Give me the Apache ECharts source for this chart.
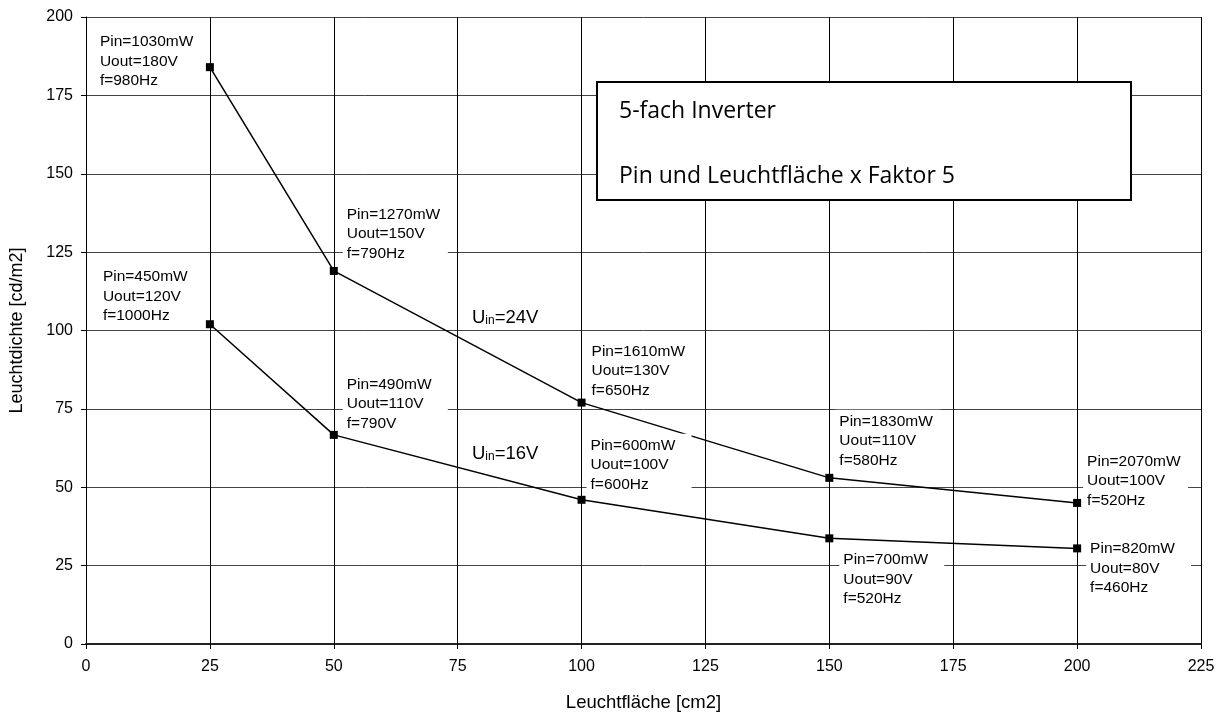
<!DOCTYPE html>
<html>
<head>
<meta charset="utf-8">
<script src="https://cdn.jsdelivr.net/npm/echarts@6/dist/echarts.min.js"></script>
<style>
html,body{margin:0;padding:0;background:#fff;}
#chart{width:1221px;height:717px;}
</style>
</head>
<body>
<div id="chart"></div>
<script>
// ---- data ----
const areaValues = [25, 50, 100, 150, 200];          // Leuchtfläche [cm2]
const lum24 = [184, 119, 77, 53, 45];                // U_in = 24V
const lum16 = [102, 66.7, 46, 33.7, 30.5];           // U_in = 16V
const info24 = [
  ["Pin=1030mW", "Uout=180V", "f=980Hz"],
  ["Pin=1270mW", "Uout=150V", "f=790Hz"],
  ["Pin=1610mW", "Uout=130V", "f=650Hz"],
  ["Pin=1830mW", "Uout=110V", "f=580Hz"],
  ["Pin=2070mW", "Uout=100V", "f=520Hz"]
];
const info16 = [
  ["Pin=450mW", "Uout=120V", "f=1000Hz"],
  ["Pin=490mW", "Uout=110V", "f=790V"],
  ["Pin=600mW", "Uout=100V", "f=600Hz"],
  ["Pin=700mW", "Uout=90V", "f=520Hz"],
  ["Pin=820mW", "Uout=80V", "f=460Hz"]
];
const xTicks = [0, 25, 50, 75, 100, 125, 150, 175, 200, 225];
const yTicks = [0, 25, 50, 75, 100, 125, 150, 175, 200];
const xTitle = "Leuchtfläche [cm2]";
const yTitle = "Leuchtdichte [cd/m2]";
const boxLines = ["5-fach Inverter", "Pin und Leuchtfläche x Faktor 5"];
const seriesNames = ["24V", "16V"];

// ---- layout (label offsets, px, relative to marker) ----
const pos24 = [[-110, -33], [13, -64], [10, -59], [10, -64], [10, -49]];
const pos16 = [[-107, -55], [13, -58], [9, -62], [14, 14], [13, -7]];

const FONT = "'Liberation Sans', Arial, sans-serif";

function buildData(ys, infos, poss) {
  return areaValues.map((x, i) => ({
    value: [x, ys[i]],
    label: {
      show: true,
      position: poss[i],
      align: 'left',
      verticalAlign: 'top',
      formatter: infos[i].join('\n'),
      fontFamily: FONT,
      fontSize: 15.5,
      lineHeight: 19.5,
      color: '#000',
      backgroundColor: '#fff',
      padding: [2, 4, 2, 4],
      width: 97
    }
  }));
}

const chart = echarts.init(document.getElementById('chart'), null, {renderer: 'canvas'});

function lineSeries(name, ys, infos, poss) {
  return {
    name: name,
    type: 'line',
    data: buildData(ys, infos, poss),
    symbol: 'rect',
    symbolSize: 8,
    itemStyle: {color: '#000'},
    lineStyle: {color: '#000', width: 1.5},
    animation: false,
    z: 3
  };
}

const option = {
  animation: false,
  backgroundColor: '#fff',
  grid: {left: 85, right: 20, top: 17, bottom: 71},
  xAxis: {
    type: 'value',
    min: xTicks[0], max: xTicks[xTicks.length - 1], interval: 25,
    name: xTitle,
    nameLocation: 'middle',
    nameGap: 49,
    nameTextStyle: {fontFamily: FONT, fontSize: 18.5, color: '#000'},
    axisLine: {show: true, onZero: false, lineStyle: {color: '#222', width: 2}},
    axisTick: {show: true, length: 5, inside: false, lineStyle: {color: '#000'}},
    axisLabel: {fontFamily: FONT, fontSize: 16, color: '#000', margin: 15},
    splitLine: {show: true, lineStyle: {color: '#000', width: 1}}
  },
  yAxis: {
    type: 'value',
    min: yTicks[0], max: yTicks[yTicks.length - 1], interval: 25,
    name: yTitle,
    nameLocation: 'middle',
    nameGap: 60,
    nameTextStyle: {fontFamily: FONT, fontSize: 18, color: '#000'},
    axisLine: {show: true, lineStyle: {color: '#000', width: 1}},
    axisTick: {show: true, length: 5, inside: false, lineStyle: {color: '#000'}},
    axisLabel: {fontFamily: FONT, fontSize: 16, color: '#000', margin: 13},
    splitLine: {show: true, lineStyle: {color: '#444', width: 1}}
  },
  series: [
    lineSeries(seriesNames[0], lum24, info24, pos24),
    lineSeries(seriesNames[1], lum16, info16, pos16)
  ],
  graphic: [
    {
      type: 'rect', z: 100,
      shape: {x: 597, y: 82, width: 534, height: 118},
      style: {fill: '#fff', stroke: '#000', lineWidth: 2}
    },
    {
      type: 'text', z: 101, x: 619, y: 111,
      style: {text: boxLines[0], font: "23px 'Open Sans', Lato, sans-serif", fill: '#000', textVerticalAlign: 'middle'}
    },
    {
      type: 'text', z: 101, x: 619, y: 176,
      style: {text: boxLines[1], font: "23px 'Open Sans', Lato, sans-serif", fill: '#000', textVerticalAlign: 'middle'}
    },
    {
      type: 'text', z: 101, x: 472, y: 316,
      style: {
        text: '{a|U}{s|in}{a|=24V}',
        verticalAlign: 'middle',
        rich: {
          a: {fontFamily: FONT, fontSize: 18.5, color: '#000', verticalAlign: 'bottom', lineHeight: 22},
          s: {fontFamily: FONT, fontSize: 12, color: '#000', verticalAlign: 'bottom', lineHeight: 20}
        }
      }
    },
    {
      type: 'text', z: 101, x: 472, y: 452,
      style: {
        text: '{a|U}{s|in}{a|=16V}',
        verticalAlign: 'middle',
        rich: {
          a: {fontFamily: FONT, fontSize: 18.5, color: '#000', verticalAlign: 'bottom', lineHeight: 22},
          s: {fontFamily: FONT, fontSize: 12, color: '#000', verticalAlign: 'bottom', lineHeight: 20}
        }
      }
    }
  ]
};
chart.setOption(option);
</script>
</body>
</html>
